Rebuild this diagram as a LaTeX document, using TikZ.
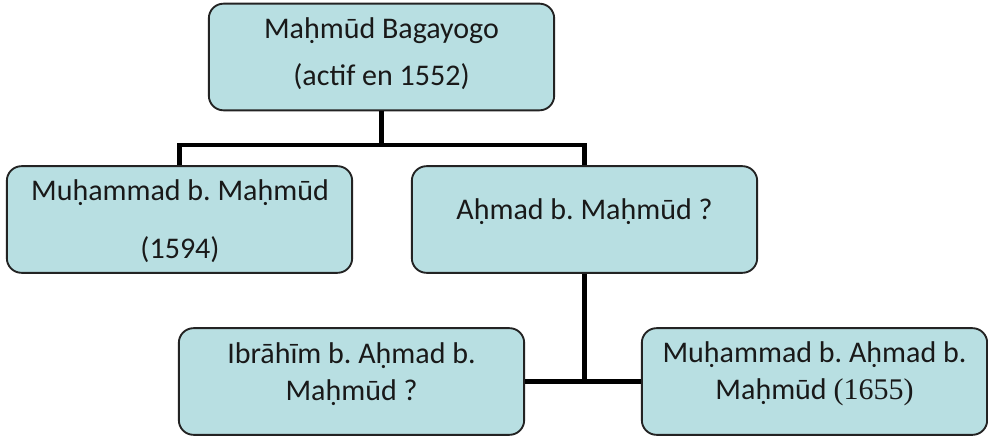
\documentclass[tikz,border=0pt]{standalone}
\usepackage{fontspec}
\setmainfont{Carlito}
\newfontfamily\yearfont{Liberation Serif}
\usepackage{tikz}
\usetikzlibrary{positioning}
\frenchspacing

\definecolor{boxfill}{RGB}{184,223,226}
\definecolor{boxline}{RGB}{35,35,35}

\begin{document}
\begin{tikzpicture}[x=0.75pt,y=0.75pt,yscale=-1,xscale=1,
    famille/.style={draw=boxline,line width=1.4pt,fill=boxfill,rounded corners=11pt,
        minimum width=259pt,minimum height=80pt,inner sep=0pt},
    nom/.style={align=center,inner sep=0pt,font=\fontsize{22.5}{28}\selectfont,text=black!90},
    lien/.style={line width=3.2pt,black}]
    \useasboundingbox (0,0) rectangle (988,438);

    %boxes
    \node[famille] (mahmud) at (381.5,57) {};
    \node[famille] (muhammad) at (179.5,219.5) {};
    \node[famille] (ahmad) at (584.5,219.5) {};
    \node[famille] (ibrahim) at (351.5,381.5) {};
    \node[famille] (muhammadb) at (814.5,381.5) {};

    %bars
    \coordinate (bar1) at (381.5,145);
    \draw[lien] (mahmud.south) -- (bar1);
    \draw[lien] (muhammad.north) |- (bar1) -| (ahmad.north);
    \draw[lien] (ahmad.south) |- (ibrahim.east);
    \draw[lien] (ahmad.south) |- (muhammadb.west);

    % Text Node
    \node[nom] (t1) at (381.5,54) {Maḥmūd Bagayogo\\[7pt](actif en 1552)};
    % Text Node
    \node[nom] (t2) at (180,221) {Muḥammad b. Maḥmūd\\[15pt](1594)};
    % Text Node
    \node[nom] (t3) at (584.5,212) {Aḥmad b. Maḥmūd ?};
    % Text Node
    \node[nom] (t4) at (351.5,374) {Ibrāhīm b. Aḥmad b.\\Maḥmūd ?};
    % Text Node
    \node[nom] (t5) at (814.5,374) {Muḥammad b. Aḥmad b.\\Maḥmūd {\yearfont(1655)}};

\end{tikzpicture}
\end{document}
